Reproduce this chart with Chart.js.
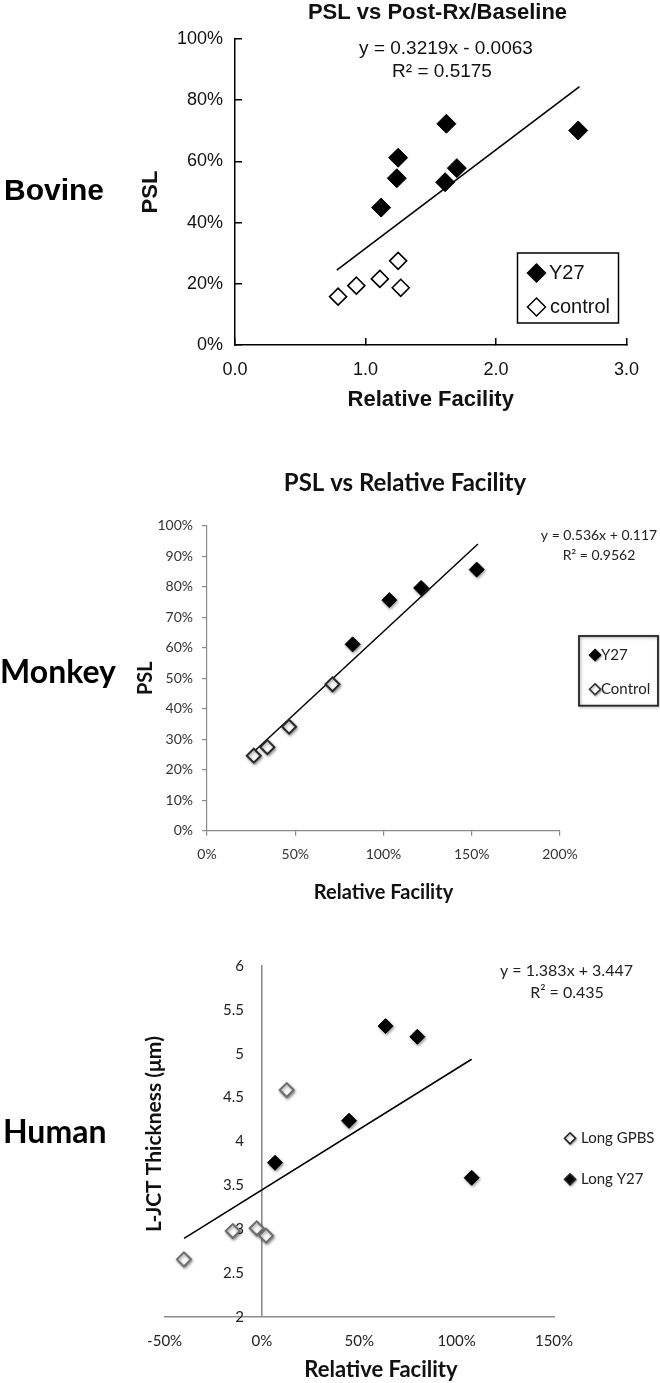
<!DOCTYPE html>
<html><head><meta charset="utf-8">
<script src="https://cdn.jsdelivr.net/npm/chart.js@4/dist/chart.umd.min.js"></script>
<style>
html,body{margin:0;padding:0;background:#fff;}
body{position:relative;width:660px;height:1383px;overflow:hidden;}
canvas{position:absolute;left:0;}
</style></head>
<body>
<canvas id="bovine" width="660" height="420" style="top:0px"></canvas>
<canvas id="monkey" width="660" height="450" style="top:460px"></canvas>
<canvas id="human" width="660" height="483" style="top:900px"></canvas>
<script>
// ---------- DATA ----------
const bovineY27X = [1.12, 1.24, 1.25, 1.62, 1.61, 1.70, 2.63];
const bovineY27Y = [0.449, 0.545, 0.612, 0.723, 0.532, 0.578, 0.701];
const bovineCtrlX = [0.79, 0.93, 1.11, 1.25, 1.27];
const bovineCtrlY = [0.158, 0.194, 0.216, 0.275, 0.187];
const bovineTrendX = [0.78, 2.64];
const bovineTrendY = [0.245, 0.844];
const bovineXTicks = ['0.0', '1.0', '2.0', '3.0'];
const bovineYTicks = ['0%', '20%', '40%', '60%', '80%', '100%'];

const monkeyY27X = [0.825, 1.033, 1.213, 1.528];
const monkeyY27Y = [0.611, 0.756, 0.796, 0.856];
const monkeyCtrlX = [0.265, 0.342, 0.465, 0.711];
const monkeyCtrlY = [0.246, 0.274, 0.341, 0.480];
const monkeyTrendX = [0.265, 1.535];
const monkeyTrendY = [0.259, 0.940];
const monkeyXTicks = ['0%', '50%', '100%', '150%', '200%'];
const monkeyYTicks = ['0%', '10%', '20%', '30%', '40%', '50%', '60%', '70%', '80%', '90%', '100%'];

const humanGpbsX = [-0.401, -0.150, -0.027, 0.021, 0.127];
const humanGpbsY = [2.654, 2.977, 3.008, 2.924, 4.585];
const humanY27X = [0.067, 0.447, 0.635, 0.798, 1.077];
const humanY27Y = [3.756, 4.235, 5.315, 5.193, 3.585];
const humanTrendX = [-0.40, 1.077];
const humanTrendY = [2.894, 4.936];
const humanXTicks = ['-50%', '0%', '50%', '100%', '150%'];
const humanYTicks = ['2', '2.5', '3', '3.5', '4', '4.5', '5', '5.5', '6'];

// ---------- HELPERS ----------
const ARIAL = "'Liberation Sans', Arial, sans-serif";
const CAL = "Lato, 'Open Sans', sans-serif";

function pts(xs, ys) { return xs.map((x, i) => ({x: x, y: ys[i]})); }
function tickFrom(labels, min, step) {
  return function (v) { const i = Math.round((v - min) / step); return labels[i] !== undefined ? labels[i] : ''; };
}

function overlayPlugin(spec) {
  return {
    id: 'overlay',
    afterDraw(chart) {
      const ctx = chart.ctx;
      ctx.save();
      (spec.texts || []).forEach(t => {
        ctx.save();
        ctx.font = t.font;
        ctx.fillStyle = t.color || '#000';
        ctx.textAlign = t.align || 'center';
        ctx.textBaseline = 'middle';
        ctx.translate(t.x, t.y);
        if (t.rot) ctx.rotate(t.rot);
        ctx.fillText(t.text, 0, 0);
        ctx.restore();
      });
      const lg = spec.legend;
      if (lg) {
        if (lg.box) {
          ctx.save();
          ctx.strokeStyle = lg.boxColor || '#000';
          ctx.lineWidth = lg.boxWidth || 1.5;
          if (lg.boxShadow) { ctx.shadowColor = 'rgba(0,0,0,0.35)'; ctx.shadowBlur = 3; ctx.shadowOffsetX = 1; ctx.shadowOffsetY = 1; }
          ctx.strokeRect(lg.box[0], lg.box[1], lg.box[2] - lg.box[0], lg.box[3] - lg.box[1]);
          ctx.restore();
        }
        lg.items.forEach(it => {
          const ds = chart.data.datasets[it.ds];
          ctx.save();
          if (ds.shadow) { ctx.shadowColor = 'rgba(0,0,0,0.35)'; ctx.shadowBlur = 2; ctx.shadowOffsetX = 1; ctx.shadowOffsetY = 1; }
          ctx.fillStyle = ds.backgroundColor;
          ctx.strokeStyle = lg.markerBorder || ds.borderColor;
          ctx.lineWidth = lg.bw;
          Chart.helpers.drawPoint(ctx, {pointStyle: 'rectRot', radius: lg.r, borderWidth: lg.bw, rotation: 0}, it.x, it.y);
          ctx.restore();
          ctx.font = lg.font;
          ctx.fillStyle = lg.color || '#000';
          ctx.textAlign = 'left';
          ctx.textBaseline = 'middle';
          ctx.fillText(ds.label, it.tx, it.y);
        });
      }
      ctx.restore();
    }
  };
}

const shadowPlugin = {
  id: 'markerShadow',
  beforeDatasetDraw(chart, args) {
    const ds = chart.data.datasets[args.index];
    chart.ctx.save();
    if (ds.shadow) {
      chart.ctx.shadowColor = 'rgba(0,0,0,0.4)';
      chart.ctx.shadowBlur = 3;
      chart.ctx.shadowOffsetX = 1;
      chart.ctx.shadowOffsetY = 1.5;
    }
  },
  afterDatasetDraw(chart) { chart.ctx.restore(); }
};

const common = {
  responsive: false,
  animation: false,
  events: [],
  plugins: {legend: {display: false}, tooltip: {enabled: false}, title: {display: false}}
};

// ---------- BOVINE ----------
new Chart(document.getElementById('bovine'), {
  type: 'scatter',
  data: {
    datasets: [
      {label: 'Y27', data: pts(bovineY27X, bovineY27Y), pointStyle: 'rectRot', pointRadius: 9.5,
       backgroundColor: '#000', borderColor: '#000', borderWidth: 1, order: 1},
      {label: 'control', data: pts(bovineCtrlX, bovineCtrlY), pointStyle: 'rectRot', pointRadius: 8.5,
       backgroundColor: '#fff', borderColor: '#000', borderWidth: 1.6, order: 1},
      {label: 'trend', data: pts(bovineTrendX, bovineTrendY), showLine: true, pointRadius: 0,
       borderColor: '#000', borderWidth: 1.6, order: 2}
    ]
  },
  options: Object.assign({}, common, {
    layout: {padding: {left: 138, right: 20, top: 39, bottom: 6.8}},
    scales: {
      x: {type: 'linear', min: 0, max: 3,
          afterFit: s => { s.height = 68.2; },
          ticks: {stepSize: 1, callback: tickFrom(bovineXTicks, 0, 1), font: {family: ARIAL, size: 18}, color: '#111', padding: 21, maxRotation: 0, autoSkip: false},
          grid: {drawOnChartArea: false, drawTicks: true, tickLength: -7, color: '#000', lineWidth: 1.5},
          border: {color: '#000', width: 1.5},
          title: {display: true, text: 'Relative Facility', font: {family: ARIAL, size: 22, weight: 'bold'}, color: '#111', padding: 0}},
      y: {type: 'linear', min: 0, max: 1,
          afterFit: s => { s.width = 97; },
          ticks: {stepSize: 0.2, callback: tickFrom(bovineYTicks, 0, 0.2), font: {family: ARIAL, size: 18}, color: '#111', padding: 19, autoSkip: false},
          grid: {drawOnChartArea: false, drawTicks: true, tickLength: -7, color: '#000', lineWidth: 1.5},
          border: {color: '#000', width: 1.5},
          title: {display: true, text: 'PSL', font: {family: ARIAL, size: 22, weight: 'bold'}, color: '#111', padding: 0}}
    }
  }),
  plugins: [shadowPlugin, overlayPlugin({
    texts: [
      {text: 'PSL vs Post-Rx/Baseline', x: 437.5, y: 13, font: 'bold 22px ' + ARIAL, color: '#111'},
      {text: 'y = 0.3219x - 0.0063', x: 446, y: 49, font: '19px ' + ARIAL, color: '#111'},
      {text: 'R\u00B2 = 0.5175', x: 442, y: 72, font: '19px ' + ARIAL, color: '#111'},
      {text: 'Bovine', x: 4, y: 192, font: 'bold 30px ' + ARIAL, color: '#000', align: 'left'}
    ],
    legend: {box: [517.5, 253, 618.5, 323], boxColor: '#000', boxWidth: 1.5, r: 9, bw: 1.5,
             font: '20px ' + ARIAL, color: '#111',
             items: [{ds: 0, x: 536.5, y: 273, tx: 549}, {ds: 1, x: 536.5, y: 307, tx: 550}]}
  })]
});

// ---------- MONKEY ----------
new Chart(document.getElementById('monkey'), {
  type: 'scatter',
  data: {
    datasets: [
      {label: 'Y27', data: pts(monkeyY27X, monkeyY27Y), pointStyle: 'rectRot', pointRadius: 7.5,
       backgroundColor: '#000', borderColor: '#000', borderWidth: 1, order: 1, shadow: true},
      {label: 'Control', data: pts(monkeyCtrlX, monkeyCtrlY), pointStyle: 'rectRot', pointRadius: 7,
       backgroundColor: '#fff', borderColor: '#2a2a2a', borderWidth: 2, order: 1, shadow: true},
      {label: 'trend', data: pts(monkeyTrendX, monkeyTrendY), showLine: true, pointRadius: 0,
       borderColor: '#000', borderWidth: 1.5, order: 2}
    ]
  },
  options: Object.assign({}, common, {
    layout: {padding: {left: 133.6, right: 100, top: 65.7, bottom: 5}},
    scales: {
      x: {type: 'linear', min: 0, max: 2,
          afterFit: s => { s.height = 74.3; },
          ticks: {stepSize: 0.5, callback: tickFrom(monkeyXTicks, 0, 0.5), font: {family: CAL, size: 14}, color: '#333', padding: 10, maxRotation: 0, autoSkip: false},
          grid: {drawOnChartArea: false, drawTicks: true, tickLength: 5, color: '#8a8a8a', lineWidth: 1.2},
          border: {color: '#8a8a8a', width: 1.2},
          title: {display: true, text: 'Relative Facility', font: {family: CAL, size: 20, weight: 'bold'}, color: '#111', padding: 0}},
      y: {type: 'linear', min: 0, max: 1,
          afterFit: s => { s.width = 73.4; },
          ticks: {stepSize: 0.1, callback: tickFrom(monkeyYTicks, 0, 0.1), font: {family: CAL, size: 14}, color: '#333', padding: 9, autoSkip: false},
          grid: {drawOnChartArea: false, drawTicks: true, tickLength: 5, color: '#8a8a8a', lineWidth: 1.2},
          border: {color: '#8a8a8a', width: 1.2},
          title: {display: true, text: 'PSL', font: {family: CAL, size: 20, weight: 'bold'}, color: '#111', padding: 0}}
    }
  }),
  plugins: [shadowPlugin, overlayPlugin({
    texts: [
      {text: 'PSL vs Relative Facility', x: 405, y: 23, font: 'bold 24px ' + CAL, color: '#111'},
      {text: 'y = 0.536x + 0.117', x: 599, y: 75.3, font: '14px ' + CAL, color: '#222'},
      {text: 'R\u00B2 = 0.9562', x: 599, y: 95, font: '14px ' + CAL, color: '#222'},
      {text: 'Monkey', x: 0, y: 213, font: 'bold 32px ' + CAL, color: '#000', align: 'left'}
    ],
    legend: {box: [579, 176, 658, 245.7], boxColor: '#222', boxWidth: 1.8, boxShadow: true, r: 5.5, bw: 1.5,
             font: '15px ' + CAL, color: '#222',
             items: [{ds: 0, x: 595, y: 195, tx: 601}, {ds: 1, x: 595, y: 229.3, tx: 601}]}
  })]
});

// ---------- HUMAN ----------
new Chart(document.getElementById('human'), {
  type: 'scatter',
  data: {
    datasets: [
      {label: 'Long GPBS', data: pts(humanGpbsX, humanGpbsY), pointStyle: 'rectRot', pointRadius: 7,
       backgroundColor: '#fff', borderColor: '#6e6e6e', borderWidth: 2, order: 1, shadow: true},
      {label: 'Long Y27', data: pts(humanY27X, humanY27Y), pointStyle: 'rectRot', pointRadius: 7.5,
       backgroundColor: '#000', borderColor: '#000', borderWidth: 1, order: 1, shadow: true},
      {label: 'trend', data: pts(humanTrendX, humanTrendY), showLine: true, pointRadius: 0,
       borderColor: '#000', borderWidth: 1.6, order: 2}
    ]
  },
  options: Object.assign({}, common, {
    layout: {padding: {left: 164.6, right: 106, top: 66, bottom: 0}},
    scales: {
      x: {type: 'linear', position: 'bottom', min: -0.5, max: 1.5,
          afterFit: s => { s.height = 66.3; },
          ticks: {stepSize: 0.5, callback: tickFrom(humanXTicks, -0.5, 0.5), font: {family: CAL, size: 15}, color: '#222', padding: 15.3, maxRotation: 0, autoSkip: false},
          grid: {display: false, drawTicks: false},
          border: {color: '#8c8c8c', width: 1.6}},
      // axis line crossing at x = 0
      y: {type: 'linear', position: {x: 0}, min: 2, max: 6,
          ticks: {display: false, stepSize: 0.5},
          grid: {display: false, drawTicks: false},
          border: {color: '#8c8c8c', width: 1.6}},
      // tick labels of that axis, set just left of the crossing line
      yLabels: {type: 'linear', axis: 'y', position: {x: -0.092}, min: 2, max: 6,
          ticks: {stepSize: 0.5, callback: tickFrom(humanYTicks, 2, 0.5), font: {family: CAL, size: 15}, color: '#222', padding: 0, autoSkip: false},
          grid: {display: false, drawTicks: false},
          border: {display: false}}
    }
  }),
  plugins: [shadowPlugin, overlayPlugin({
    texts: [
      {text: 'y = 1.383x + 3.447', x: 566.5, y: 70.7, font: '16px ' + CAL, color: '#222'},
      {text: 'R\u00B2 = 0.435', x: 567, y: 92.7, font: '16px ' + CAL, color: '#222'},
      {text: 'L-JCT Thickness (\u03BCm)', x: 154, y: 234, rot: -Math.PI / 2, font: 'bold 21px ' + CAL, color: '#111'},
      {text: 'Relative Facility', x: 381, y: 470, font: 'bold 22px ' + CAL, color: '#111'},
      {text: 'Human', x: 3, y: 233, font: 'bold 32px ' + CAL, color: '#000', align: 'left'}
    ],
    legend: {box: null, r: 5.5, bw: 1.6, markerBorder: '#222', font: '15px ' + CAL, color: '#222',
             items: [{ds: 0, x: 570, y: 238.3, tx: 581}, {ds: 1, x: 570, y: 279.3, tx: 581}]}
  })]
});
</script>
</body></html>
